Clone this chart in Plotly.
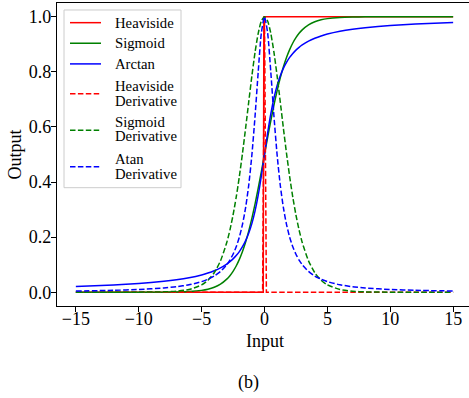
import plotly.graph_objects as go

# Values
x_smooth = [-15, -12, -10, -8, -7, -6, -5, -4.5, -4, -3.5, -3, -2.75, -2.5, -2.25, -2,
            -1.75, -1.5, -1.25, -1, -0.75, -0.5, -0.25, 0, 0.25, 0.5, 0.75, 1, 1.25,
            1.5, 1.75, 2, 2.25, 2.5, 2.75, 3, 3.5, 4, 4.5, 5, 6, 7, 8, 10, 12, 15]

sigmoid = [0.0000, 0.0000, 0.00005, 0.0003, 0.0009, 0.0025, 0.0067, 0.0110, 0.0180, 0.0293,
           0.0474, 0.0600, 0.0759, 0.0953, 0.1192, 0.1480, 0.1824, 0.2227, 0.2689, 0.3208,
           0.3775, 0.4378, 0.5000, 0.5622, 0.6225, 0.6792, 0.7311, 0.7773, 0.8176, 0.8520,
           0.8808, 0.9047, 0.9241, 0.9400, 0.9526, 0.9707, 0.9820, 0.9890, 0.9933, 0.9975,
           0.9991, 0.9997, 0.99995, 1.0000, 1.0000]

sigmoid_deriv = [0.0000, 0.0000, 0.0002, 0.0013, 0.0036, 0.0099, 0.0266, 0.0435, 0.0707, 0.1138,
                 0.1807, 0.2257, 0.2804, 0.3450, 0.4200, 0.5044, 0.5965, 0.6924, 0.7864, 0.8716,
                 0.9400, 0.9845, 1.0000, 0.9845, 0.9400, 0.8716, 0.7864, 0.6924, 0.5965, 0.5044,
                 0.4200, 0.3450, 0.2804, 0.2257, 0.1807, 0.1138, 0.0707, 0.0435, 0.0266, 0.0099,
                 0.0036, 0.0013, 0.0002, 0.0000, 0.0000]

arctan = [0.0212, 0.0265, 0.0317, 0.0396, 0.0452, 0.0526, 0.0628, 0.0696, 0.0780, 0.0886,
          0.1024, 0.1110, 0.1211, 0.1331, 0.1476, 0.1653, 0.1872, 0.2148, 0.2500, 0.2952,
          0.3524, 0.4220, 0.5000, 0.5780, 0.6476, 0.7048, 0.7500, 0.7852, 0.8128, 0.8347,
          0.8524, 0.8669, 0.8789, 0.8890, 0.8976, 0.9114, 0.9220, 0.9304, 0.9372, 0.9474,
          0.9548, 0.9604, 0.9683, 0.9735, 0.9788]

atan_deriv = [0.0044, 0.0069, 0.0099, 0.0154, 0.0200, 0.0270, 0.0385, 0.0471, 0.0588, 0.0755,
              0.1000, 0.1168, 0.1379, 0.1650, 0.2000, 0.2462, 0.3077, 0.3902, 0.5000, 0.6400,
              0.8000, 0.9412, 1.0000, 0.9412, 0.8000, 0.6400, 0.5000, 0.3902, 0.3077, 0.2462,
              0.2000, 0.1650, 0.1379, 0.1168, 0.1000, 0.0755, 0.0588, 0.0471, 0.0385, 0.0270,
              0.0200, 0.0154, 0.0099, 0.0069, 0.0044]

x_heaviside = [-15, -0.1, -0.05, 15]
heaviside = [0, 0, 1, 1]

x_heaviside_deriv = [-15, -0.15, 0, 0.15, 15]
heaviside_deriv = [0, 0, 1, 0, 0]

x_ticks = [-15, -10, -5, 0, 5, 10, 15]
y_ticks = [0.0, 0.2, 0.4, 0.6, 0.8, 1.0]

legend_labels = [["Heaviside"], ["Sigmoid"], ["Arctan"],
                 ["Heaviside", "Derivative"], ["Sigmoid", "Derivative"], ["Atan", "Derivative"]]

FONT = "Liberation Serif"
DASH = "5.5px,2.4px"
LW = 1.5
RED, GREEN, BLUE = "#ff0000", "#008000", "#0000ff"

series = [
    (x_heaviside, heaviside, RED, "solid", False),
    (x_smooth, sigmoid, GREEN, "solid", True),
    (x_smooth, arctan, BLUE, "solid", True),
    (x_heaviside_deriv, heaviside_deriv, RED, DASH, False),
    (x_smooth, sigmoid_deriv, GREEN, DASH, True),
    (x_smooth, atan_deriv, BLUE, DASH, True),
]

fig = go.Figure()
for (xs, ys, col, dash, smooth), lab in zip(series, legend_labels):
    line = dict(color=col, width=LW, dash=dash)
    if smooth:
        line.update(shape="spline", smoothing=0.6)
    fig.add_trace(go.Scatter(x=xs, y=ys, mode="lines", name=" ".join(lab), line=line,
                             showlegend=False))

L, R_EDGE, T, B_EDGE = 57, 469, 3, 306.5
W, H = 469, 398
pw = R_EDGE - L
ph = B_EDGE - T
x_per_px = 33.0 / 415.0
x_max = -16.5 + pw * x_per_px


def px_x(p):
    return (p - L) / pw


def px_y(p):
    return (B_EDGE - p) / ph


# hand-built legend (matches matplotlib spacing)
shapes = [dict(type="rect", xref="paper", yref="paper", x0=px_x(64), x1=px_x(181),
               y0=px_y(188), y1=px_y(10), line=dict(color="#cccccc", width=1),
               fillcolor="rgba(255,255,255,0.8)", layer="above")]
handle_y = [22.7, 43.3, 64, 94, 130.5, 167]
text_y = [[22.7], [43.3], [64], [86, 100.7], [122.3, 136.7], [159.3, 174]]
annotations = []
for (xs, ys, col, dash, smooth), hy, tys, lab in zip(series, handle_y, text_y, legend_labels):
    shapes.append(dict(type="line", xref="paper", yref="paper", x0=px_x(70), x1=px_x(101),
                       y0=px_y(hy), y1=px_y(hy), line=dict(color=col, width=LW, dash=dash),
                       layer="above"))
    for ty, t in zip(tys, lab):
        annotations.append(dict(text=t, xref="paper", yref="paper", x=px_x(112.5), y=px_y(ty),
                                xanchor="left", yanchor="middle", showarrow=False,
                                font=dict(family=FONT, size=14.7, color="black")))

annotations += [
    dict(text="Input", xref="paper", yref="paper", x=px_x(264.5), y=px_y(342),
         xanchor="center", yanchor="middle", showarrow=False, font=dict(family=FONT, size=18)),
    dict(text="Output", xref="paper", yref="paper", x=px_x(14), y=0.5,
         xanchor="center", yanchor="middle", textangle=-90, showarrow=False,
         font=dict(family=FONT, size=18)),
    dict(text="(b)", xref="paper", yref="paper", x=px_x(248.3), y=px_y(383),
         xanchor="center", yanchor="middle", showarrow=False, font=dict(family=FONT, size=18)),
]

fig.update_layout(
    width=W, height=H,
    margin=dict(l=L, r=W - R_EDGE, t=T, b=H - B_EDGE, pad=0),
    paper_bgcolor="white", plot_bgcolor="white",
    font=dict(family=FONT, size=18, color="black"),
    showlegend=False,
    xaxis=dict(
        range=[-16.5, x_max], tickvals=x_ticks, ticks="outside", ticklen=5, tickwidth=1.2,
        tickcolor="black", showline=True, linecolor="black", linewidth=1.2, mirror=True,
        showgrid=False, zeroline=False, tickfont=dict(family=FONT, size=18),
        ticklabelstandoff=-9,
    ),
    yaxis=dict(
        range=[-0.05, 1.05], tickvals=y_ticks, tickformat=".1f", ticks="outside", ticklen=5,
        tickwidth=1.2, tickcolor="black", showline=True, linecolor="black", linewidth=1.2,
        mirror=False, showgrid=False, zeroline=False, tickfont=dict(family=FONT, size=18),
        ticklabelstandoff=-4,
    ),
    shapes=shapes,
    annotations=annotations,
)

fig.write_html("out.html")
